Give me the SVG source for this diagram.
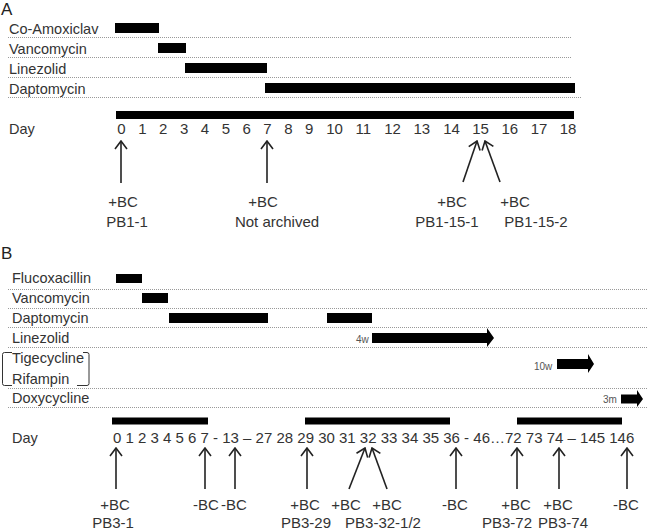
<svg xmlns="http://www.w3.org/2000/svg" width="650" height="531" viewBox="0 0 650 531">
<style>
text{font-family:"Liberation Sans",Arial,sans-serif;fill:#333}
.lab{font-size:14.5px}
.num{font-size:15px}
.mid{text-anchor:middle}
.panel{font-size:17px;fill:#222}
.small{font-size:10px;fill:#555}
.dot{stroke:#999;stroke-width:1;stroke-dasharray:1 1;fill:none}
.bar{fill:#000}
.arr{stroke:#222;stroke-width:1.6;fill:none;marker-end:url(#open)}
.brk{stroke:#333;stroke-width:1;fill:none}
</style>
<defs>
<marker id="open" viewBox="0 0 10 14" refX="9" refY="7" markerWidth="10" markerHeight="14" markerUnits="userSpaceOnUse" orient="auto">
<path d="M1,1 L9,7 L1,13" fill="none" stroke="#222" stroke-width="1.6"/>
</marker>
</defs>
<rect width="650" height="531" fill="#fff"/>

<!-- Panel A -->
<g id="panelA-title"><text class="panel" x="1" y="15">A</text></g>
<g id="A-coamoxiclav">
<text class="lab" x="9" y="34">Co-Amoxiclav</text>
<rect class="bar" x="115" y="23" width="44" height="10"/>
<line class="dot" x1="8" y1="37.5" x2="572" y2="37.5"/>
</g>
<g id="A-vancomycin">
<text class="lab" x="9" y="53.5">Vancomycin</text>
<rect class="bar" x="158" y="43" width="28" height="10"/>
<line class="dot" x1="8" y1="57.5" x2="572" y2="57.5"/>
</g>
<g id="A-linezolid">
<text class="lab" x="9" y="73.5">Linezolid</text>
<rect class="bar" x="185" y="63" width="82" height="10"/>
<line class="dot" x1="8" y1="77.5" x2="572" y2="77.5"/>
</g>
<g id="A-daptomycin">
<text class="lab" x="9" y="93.5">Daptomycin</text>
<rect class="bar" x="265" y="83" width="310" height="10"/>
<line class="dot" x1="8" y1="97.5" x2="582" y2="97.5"/>
</g>
<g id="A-day">
<rect class="bar" x="116" y="111" width="458" height="8"/>
<text class="lab" x="9" y="134">Day</text>
<text class="num mid" x="121.5" y="134">0</text>
<text class="num mid" x="142.4" y="134">1</text>
<text class="num mid" x="163.2" y="134">2</text>
<text class="num mid" x="184.1" y="134">3</text>
<text class="num mid" x="204.9" y="134">4</text>
<text class="num mid" x="225.8" y="134">5</text>
<text class="num mid" x="246.6" y="134">6</text>
<text class="num mid" x="267.5" y="134">7</text>
<text class="num mid" x="288.3" y="134">8</text>
<text class="num mid" x="309.2" y="134">9</text>
<text class="num mid" x="334.6" y="134">10</text>
<text class="num mid" x="363.4" y="134">11</text>
<text class="num mid" x="392.6" y="134">12</text>
<text class="num mid" x="421.8" y="134">13</text>
<text class="num mid" x="451.5" y="134">14</text>
<text class="num mid" x="480.6" y="134">15</text>
<text class="num mid" x="509.8" y="134">16</text>
<text class="num mid" x="539" y="134">17</text>
<text class="num mid" x="568" y="134">18</text>
</g>
<g id="A-labels">
<text class="num mid" x="123" y="206.5">+BC</text>
<text class="num mid" x="127" y="226.5">PB1-1</text>
<text class="num mid" x="263" y="206.5">+BC</text>
<text class="num mid" x="277" y="226.5">Not archived</text>
<text class="num mid" x="452" y="206.5">+BC</text>
<text class="num mid" x="447" y="226.5">PB1-15-1</text>
<text class="num mid" x="515" y="206.5">+BC</text>
<text class="num mid" x="536" y="226.5">PB1-15-2</text>
</g>

<!-- Panel B -->
<g id="panelB-title"><text class="panel" x="1" y="259">B</text></g>
<g id="B-flucoxacillin">
<text class="lab" x="12" y="283">Flucoxacillin</text>
<rect class="bar" x="116" y="274" width="26" height="9"/>
<line class="dot" x1="8" y1="289.5" x2="648" y2="289.5"/>
</g>
<g id="B-vancomycin">
<text class="lab" x="12" y="303">Vancomycin</text>
<rect class="bar" x="142" y="293" width="26" height="10"/>
<line class="dot" x1="8" y1="308.5" x2="648" y2="308.5"/>
</g>
<g id="B-daptomycin">
<text class="lab" x="12" y="322.5">Daptomycin</text>
<rect class="bar" x="169" y="313" width="99" height="10"/>
<rect class="bar" x="327" y="313" width="45" height="10"/>
<line class="dot" x1="8" y1="327.5" x2="648" y2="327.5"/>
</g>
<g id="B-linezolid">
<text class="lab" x="12" y="342.5">Linezolid</text>
<text class="small" x="356" y="343">4w</text>
<polygon class="bar" points="372,333 487,333 487,328 494,338 487,347 487,343 372,343"/>
<line class="dot" x1="8" y1="347.5" x2="648" y2="347.5"/>
</g>
<g id="B-tigecycline-rifampin">
<path class="brk" d="M12,352.5 H4.5 Q2.5,352.5 2.5,354.5 V383.5 Q2.5,385.5 4.5,385.5 H12"/>
<path class="brk" d="M83,352.5 H87 Q89,352.5 89,354.5 V383.5 Q89,385.5 87,385.5 H77"/>
<text class="lab" x="12" y="363">Tigecycline</text>
<text class="lab" x="12" y="383.5">Rifampin</text>
<text class="small" x="534" y="370">10w</text>
<polygon class="bar" points="557,359 588,359 588,354 594,364 588,373 588,369 557,369"/>
<line class="dot" x1="8" y1="388.5" x2="648" y2="388.5"/>
</g>
<g id="B-doxycycline">
<text class="lab" x="12" y="402.5">Doxycycline</text>
<text class="small" x="603" y="403">3m</text>
<polygon class="bar" points="621,394.5 637,394.5 637,390 643,399 637,407 637,403.5 621,403.5"/>
<line class="dot" x1="8" y1="407.5" x2="648" y2="407.5"/>
</g>
<g id="B-day">
<rect class="bar" x="112" y="417.5" width="96" height="7"/>
<rect class="bar" x="305" y="417.5" width="145" height="7"/>
<rect class="bar" x="517" y="417.5" width="105" height="7"/>
<text class="lab" x="12" y="443">Day</text>
<text class="num" x="113" y="443">0 1 2 3 4 5 6 7 - 13 – 27 28 29 30 31 32 33 34 35 36 - 46…72 73 74 – 145 146</text>
</g>
<g id="B-labels">
<text class="num mid" x="115" y="510">+BC</text>
<text class="num mid" x="113" y="528">PB3-1</text>
<text class="num mid" x="206" y="510">-BC</text>
<text class="num mid" x="234" y="510">-BC</text>
<text class="num mid" x="305" y="510">+BC</text>
<text class="num mid" x="306" y="528">PB3-29</text>
<text class="num mid" x="346" y="510">+BC</text>
<text class="num mid" x="387" y="510">+BC</text>
<text class="num mid" x="383" y="528">PB3-32-1/2</text>
<text class="num mid" x="455" y="510">-BC</text>
<text class="num mid" x="516" y="510">+BC</text>
<text class="num mid" x="558" y="510">+BC</text>
<text class="num mid" x="507" y="528">PB3-72</text>
<text class="num mid" x="563" y="528">PB3-74</text>
<text class="num mid" x="626" y="510">-BC</text>
</g>

<!-- connectors -->
<g id="connectors">
<line class="arr" x1="121" y1="183" x2="121" y2="141"/>
<line class="arr" x1="267" y1="183" x2="267" y2="141"/>
<line class="arr" x1="463" y1="182" x2="477" y2="141"/>
<line class="arr" x1="500" y1="182" x2="485" y2="141"/>
<line class="arr" x1="116" y1="489" x2="116" y2="448"/>
<line class="arr" x1="205" y1="489" x2="205" y2="448"/>
<line class="arr" x1="235" y1="489" x2="235" y2="448"/>
<line class="arr" x1="307" y1="489" x2="307" y2="448"/>
<line class="arr" x1="349" y1="489" x2="365" y2="448"/>
<line class="arr" x1="387" y1="489" x2="372" y2="448"/>
<line class="arr" x1="456" y1="489" x2="456" y2="448"/>
<line class="arr" x1="517" y1="489" x2="517" y2="448"/>
<line class="arr" x1="559" y1="489" x2="559" y2="448"/>
<line class="arr" x1="627" y1="489" x2="627" y2="448"/>
</g>
</svg>
